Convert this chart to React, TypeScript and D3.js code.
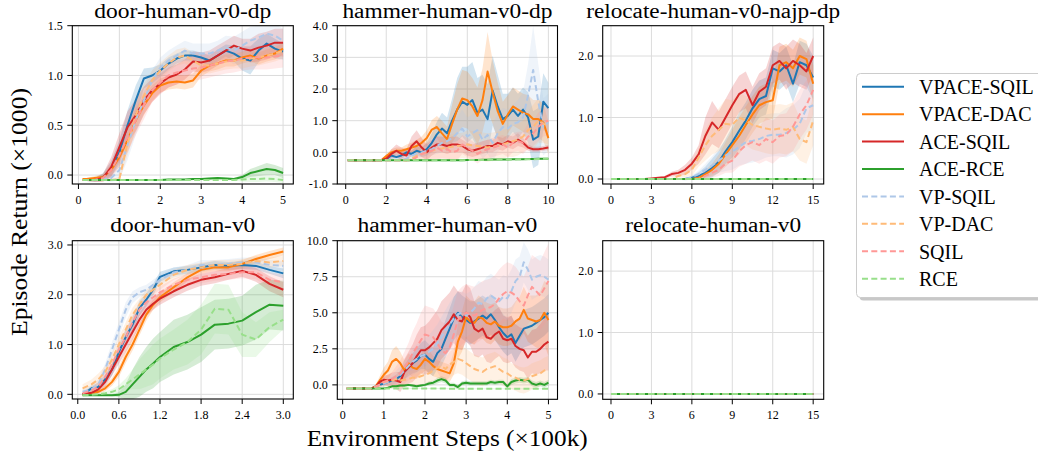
import React from 'react';
import * as d3 from 'd3';

// ---------- series meta ----------
const SERIES_NAMES = ['VPACE-SQIL', 'VPACE-DAC', 'ACE-SQIL', 'ACE-RCE', 'VP-SQIL', 'VP-DAC', 'SQIL', 'RCE'];
const SERIES_COLORS = ['#1f77b4', '#ff7f0e', '#d62728', '#2ca02c', '#aec7e8', '#ffbb78', '#ff9896', '#98df8a'];
const SERIES_DASHED = [false, false, false, false, true, true, true, true];

// ---------- door-human-v0-dp ----------
const doorDpX = [0.1, 0.2, 0.4, 0.6, 0.8, 1.0, 1.2, 1.4, 1.6, 1.8, 2.0, 2.2, 2.4, 2.6, 2.8, 3.0, 3.2, 3.4, 3.6, 3.8, 4.0, 4.2, 4.4, 4.6, 4.8, 5.0];
const doorDpVpaceSqil = [-0.05, -0.05, -0.05, -0.02, 0.06, 0.23, 0.5, 0.75, 0.97, 1.0, 1.05, 1.12, 1.17, 1.2, 1.2, 1.18, 1.15, 1.2, 1.25, 1.22, 1.17, 1.15, 1.25, 1.32, 1.27, 1.24];
const doorDpVpaceSqilSd = [0.01, 0.01, 0.02, 0.04, 0.08, 0.12, 0.15, 0.15, 0.1, 0.08, 0.06, 0.06, 0.05, 0.05, 0.05, 0.05, 0.05, 0.06, 0.06, 0.08, 0.12, 0.14, 0.12, 0.1, 0.1, 0.08];
const doorDpVpaceDac = [-0.04, -0.04, -0.03, -0.02, 0.05, 0.18, 0.35, 0.55, 0.7, 0.82, 0.9, 0.93, 0.94, 0.93, 0.95, 1.05, 1.1, 1.12, 1.15, 1.15, 1.18, 1.2, 1.17, 1.2, 1.22, 1.27];
const doorDpVpaceDacSd = [0.01, 0.01, 0.02, 0.03, 0.06, 0.1, 0.12, 0.12, 0.1, 0.08, 0.07, 0.07, 0.07, 0.07, 0.07, 0.06, 0.06, 0.06, 0.06, 0.06, 0.06, 0.06, 0.06, 0.06, 0.06, 0.06];
const doorDpAceSqil = [-0.05, -0.05, -0.05, -0.03, 0.08, 0.28, 0.48, 0.6, 0.75, 0.85, 0.92, 0.98, 1.01, 1.06, 1.14, 1.13, 1.15, 1.2, 1.25, 1.3, 1.27, 1.25, 1.28, 1.3, 1.33, 1.33];
const doorDpAceSqilSd = [0.01, 0.01, 0.02, 0.04, 0.1, 0.14, 0.16, 0.16, 0.14, 0.12, 0.1, 0.1, 0.1, 0.1, 0.1, 0.1, 0.1, 0.1, 0.1, 0.1, 0.1, 0.12, 0.14, 0.14, 0.14, 0.14];
const doorDpAceRce = [-0.05, -0.05, -0.05, -0.05, -0.05, -0.05, -0.05, -0.05, -0.05, -0.05, -0.05, -0.045, -0.045, -0.045, -0.04, -0.04, -0.035, -0.03, -0.035, -0.04, -0.02, 0.02, 0.04, 0.06, 0.05, 0.02];
const doorDpAceRceSd = [0.005, 0.005, 0.005, 0.005, 0.005, 0.005, 0.005, 0.005, 0.005, 0.005, 0.005, 0.005, 0.005, 0.005, 0.008, 0.008, 0.01, 0.01, 0.01, 0.01, 0.02, 0.04, 0.05, 0.06, 0.05, 0.05];
const doorDpVpSqil = [-0.05, -0.05, -0.05, -0.04, -0.03, 0.05, 0.3, 0.55, 0.75, 0.95, 1.08, 1.15, 1.2, 1.25, 1.22, 1.22, 1.22, 1.25, 1.28, 1.25, 1.3, 1.35, 1.38, 1.42, 1.4, 1.35];
const doorDpVpSqilSd = [0.01, 0.01, 0.01, 0.02, 0.04, 0.1, 0.15, 0.15, 0.12, 0.1, 0.1, 0.1, 0.1, 0.1, 0.1, 0.1, 0.1, 0.1, 0.12, 0.14, 0.14, 0.14, 0.12, 0.12, 0.12, 0.12];
const doorDpVpDac = [-0.05, -0.05, -0.05, -0.05, -0.05, -0.04, 0.32, 0.6, 0.8, 0.95, 1.05, 1.12, 1.18, 1.2, 1.15, 1.1, 1.1, 1.12, 1.14, 1.15, 1.15, 1.17, 1.18, 1.2, 1.22, 1.25];
const doorDpVpDacSd = [0.01, 0.01, 0.01, 0.01, 0.01, 0.02, 0.12, 0.14, 0.12, 0.1, 0.08, 0.08, 0.08, 0.08, 0.08, 0.08, 0.08, 0.08, 0.08, 0.08, 0.08, 0.08, 0.08, 0.08, 0.08, 0.08];
const doorDpSqil = [-0.05, -0.05, -0.05, -0.03, 0.05, 0.2, 0.38, 0.55, 0.7, 0.85, 0.93, 1.0, 1.03, 1.05, 1.07, 1.08, 1.1, 1.12, 1.14, 1.15, 1.17, 1.18, 1.18, 1.18, 1.19, 1.2];
const doorDpSqilSd = [0.01, 0.01, 0.02, 0.03, 0.08, 0.12, 0.15, 0.15, 0.14, 0.12, 0.12, 0.12, 0.12, 0.12, 0.12, 0.12, 0.12, 0.12, 0.12, 0.12, 0.12, 0.12, 0.12, 0.12, 0.12, 0.12];
const doorDpRce = [-0.05, -0.05, -0.05, -0.05, -0.05, -0.05, -0.05, -0.05, -0.05, -0.05, -0.05, -0.05, -0.05, -0.05, -0.05, -0.05, -0.05, -0.05, -0.05, -0.05, -0.045, -0.04, -0.04, -0.035, -0.04, -0.05];
const doorDpRceSd = [0.005, 0.005, 0.005, 0.005, 0.005, 0.005, 0.005, 0.005, 0.005, 0.005, 0.005, 0.005, 0.005, 0.005, 0.005, 0.005, 0.005, 0.005, 0.005, 0.005, 0.02, 0.03, 0.03, 0.03, 0.03, 0.03];
const doorDpXTicks = [0, 1, 2, 3, 4, 5];
const doorDpYTicks = [0, 0.5, 1.0, 1.5];

// ---------- hammer-human-v0-dp ----------
const hammerDpX = [0.1, 0.25, 0.5, 0.75, 1, 1.25, 1.5, 1.75, 2, 2.25, 2.5, 2.75, 3, 3.25, 3.5, 3.75, 4, 4.25, 4.5, 4.75, 5, 5.25, 5.5, 5.75, 6, 6.25, 6.5, 6.75, 7, 7.25, 7.5, 7.75, 8, 8.25, 8.5, 8.75, 9, 9.25, 9.5, 9.75, 10];
const hammerDpVpaceSqil = [-0.25, -0.25, -0.25, -0.25, -0.25, -0.25, -0.25, -0.25, -0.22, -0.1, -0.15, -0.1, 0.0, -0.05, 0.05, 0.0, 0.1, 0.3, 0.57, 0.75, 0.6, 1.0, 1.35, 1.6, 1.5, 1.65, 1.25, 1.35, 1.05, 1.95, 1.45, 1.05, 1.15, 1.35, 1.15, 1.35, 1.1, 0.4, 0.5, 1.6, 1.4];
const hammerDpVpaceSqilSd = [0.01, 0.01, 0.01, 0.01, 0.01, 0.01, 0.01, 0.01, 0.05, 0.1, 0.1, 0.1, 0.1, 0.1, 0.15, 0.15, 0.2, 0.3, 0.4, 0.5, 0.5, 0.7, 1.0, 1.1, 1.2, 1.2, 1.1, 1.1, 1.1, 1.1, 1.0, 0.8, 0.7, 0.7, 0.7, 0.7, 0.8, 0.9, 0.9, 0.9, 0.8];
const hammerDpVpaceDac = [-0.25, -0.25, -0.25, -0.25, -0.25, -0.25, -0.25, -0.25, -0.12, 0.0, 0.05, 0.05, 0.1, 0.15, 0.2, 0.3, 0.45, 0.72, 0.8, 0.6, 0.42, 0.9, 1.35, 1.7, 1.65, 1.45, 1.15, 1.65, 2.55, 1.9, 1.3, 0.9, 1.2, 1.45, 1.35, 1.25, 1.2, 1.05, 1.05, 0.95, 0.45];
const hammerDpVpaceDacSd = [0.01, 0.01, 0.01, 0.01, 0.01, 0.01, 0.01, 0.01, 0.05, 0.1, 0.1, 0.1, 0.15, 0.15, 0.2, 0.2, 0.25, 0.3, 0.35, 0.4, 0.4, 0.6, 0.8, 0.9, 0.9, 0.9, 0.9, 1.0, 1.25, 1.0, 0.9, 0.7, 0.6, 0.6, 0.6, 0.6, 0.6, 0.6, 0.6, 0.6, 0.5];
const hammerDpAceSqil = [-0.25, -0.25, -0.25, -0.25, -0.25, -0.25, -0.25, -0.25, -0.2, -0.05, 0.05, -0.05, -0.1, 0.2, 0.35, 0.15, 0.0, 0.15, 0.25, 0.25, 0.2, 0.25, 0.25, 0.2, 0.1, 0.05, 0.1, 0.15, 0.2, 0.2, 0.3, 0.25, 0.35, 0.3, 0.4, 0.3, 0.15, 0.1, 0.1, 0.12, 0.15];
const hammerDpAceSqilSd = [0.01, 0.01, 0.01, 0.01, 0.01, 0.01, 0.01, 0.01, 0.05, 0.15, 0.2, 0.2, 0.2, 0.3, 0.35, 0.3, 0.25, 0.25, 0.25, 0.25, 0.25, 0.25, 0.25, 0.2, 0.2, 0.2, 0.2, 0.2, 0.2, 0.2, 0.2, 0.2, 0.2, 0.2, 0.2, 0.15, 0.1, 0.08, 0.08, 0.08, 0.08];
const hammerDpAceRce = [-0.25, -0.25, -0.25, -0.25, -0.25, -0.25, -0.25, -0.25, -0.25, -0.25, -0.25, -0.25, -0.25, -0.25, -0.25, -0.25, -0.25, -0.25, -0.25, -0.25, -0.25, -0.25, -0.25, -0.25, -0.245, -0.24, -0.24, -0.235, -0.235, -0.23, -0.23, -0.225, -0.225, -0.22, -0.22, -0.215, -0.21, -0.21, -0.205, -0.2, -0.2];
const hammerDpAceRceSd = [0.02, 0.02, 0.02, 0.02, 0.02, 0.02, 0.02, 0.02, 0.02, 0.02, 0.02, 0.02, 0.02, 0.02, 0.02, 0.02, 0.02, 0.02, 0.02, 0.02, 0.02, 0.02, 0.02, 0.02, 0.02, 0.02, 0.02, 0.02, 0.02, 0.02, 0.02, 0.02, 0.02, 0.02, 0.02, 0.02, 0.02, 0.02, 0.02, 0.02, 0.02];
const hammerDpVpSqil = [-0.25, -0.25, -0.25, -0.25, -0.25, -0.25, -0.25, -0.25, -0.25, -0.25, -0.25, -0.25, -0.2, -0.1, -0.05, 0.0, 0.05, 0.1, 0.2, 0.3, 0.35, 0.45, 0.6, 0.75, 0.5, 0.6, 0.7, 0.4, 0.55, 0.3, 0.6, 0.8, 0.75, 0.9, 0.95, 1.1, 1.8, 2.6, 1.6, 0.8, 0.95];
const hammerDpVpSqilSd = [0.01, 0.01, 0.01, 0.01, 0.01, 0.01, 0.01, 0.01, 0.01, 0.01, 0.01, 0.01, 0.05, 0.1, 0.1, 0.15, 0.2, 0.2, 0.25, 0.3, 0.35, 0.4, 0.5, 0.6, 0.6, 0.6, 0.6, 0.6, 0.6, 0.6, 0.6, 0.6, 0.6, 0.6, 0.7, 0.8, 1.0, 1.4, 1.2, 0.9, 0.9];
const hammerDpVpDac = [-0.25, -0.25, -0.25, -0.25, -0.25, -0.25, -0.25, -0.25, -0.25, -0.25, -0.25, -0.25, -0.25, -0.2, -0.1, -0.05, 0.0, 0.05, 0.1, 0.12, 0.15, 0.18, 0.2, 0.22, 0.25, 0.22, 0.2, 0.18, 0.15, 0.18, 0.2, 0.25, 0.3, 0.35, 0.4, 0.5, 0.7, 0.8, 1.0, 0.9, 0.85];
const hammerDpVpDacSd = [0.01, 0.01, 0.01, 0.01, 0.01, 0.01, 0.01, 0.01, 0.01, 0.01, 0.01, 0.01, 0.01, 0.05, 0.1, 0.15, 0.2, 0.25, 0.3, 0.3, 0.35, 0.4, 0.4, 0.4, 0.45, 0.45, 0.45, 0.45, 0.45, 0.45, 0.45, 0.45, 0.45, 0.5, 0.5, 0.5, 0.6, 0.7, 0.7, 0.6, 0.6];
const hammerDpSqil = [-0.25, -0.25, -0.25, -0.25, -0.25, -0.25, -0.25, -0.25, -0.25, -0.25, -0.25, -0.25, -0.25, -0.25, -0.15, -0.05, 0.0, 0.05, 0.15, 0.05, 0.1, 0.0, 0.05, 0.25, 0.15, 0.05, -0.05, 0.05, 0.1, 0.15, 0.2, 0.25, 0.15, 0.3, 0.35, 0.3, 0.5, 0.6, 0.8, 0.95, 1.0];
const hammerDpSqilSd = [0.01, 0.01, 0.01, 0.01, 0.01, 0.01, 0.01, 0.01, 0.01, 0.01, 0.01, 0.01, 0.01, 0.01, 0.1, 0.2, 0.3, 0.35, 0.35, 0.3, 0.3, 0.3, 0.3, 0.3, 0.3, 0.3, 0.3, 0.3, 0.3, 0.3, 0.3, 0.3, 0.3, 0.3, 0.3, 0.35, 0.4, 0.4, 0.45, 0.45, 0.45];
const hammerDpRce = [-0.25, -0.25, -0.25, -0.25, -0.25, -0.25, -0.25, -0.25, -0.25, -0.25, -0.25, -0.25, -0.25, -0.25, -0.25, -0.25, -0.25, -0.25, -0.25, -0.25, -0.25, -0.25, -0.25, -0.25, -0.245, -0.245, -0.24, -0.24, -0.235, -0.235, -0.23, -0.23, -0.225, -0.225, -0.22, -0.22, -0.215, -0.215, -0.21, -0.205, -0.2];
const hammerDpRceSd = [0.015, 0.015, 0.015, 0.015, 0.015, 0.015, 0.015, 0.015, 0.015, 0.015, 0.015, 0.015, 0.015, 0.015, 0.015, 0.015, 0.015, 0.015, 0.015, 0.015, 0.015, 0.015, 0.015, 0.015, 0.015, 0.015, 0.015, 0.015, 0.015, 0.015, 0.015, 0.015, 0.015, 0.015, 0.015, 0.015, 0.015, 0.015, 0.015, 0.015, 0.015];
const hammerDpXTicks = [0, 2, 4, 6, 8, 10];
const hammerDpYTicks = [-1, 0, 1, 2, 3, 4];

// ---------- relocate-human-v0-najp-dp ----------
const relocDpX = [0, 0.5, 1, 1.5, 2, 2.5, 3, 3.5, 4, 4.5, 5, 5.5, 6, 6.5, 7, 7.5, 8, 8.5, 9, 9.5, 10, 10.5, 11, 11.5, 12, 12.5, 13, 13.5, 14, 14.5, 15];
const relocDpVpaceSqil = [0, 0, 0, 0, 0, 0, 0, 0, 0, 0, 0, 0, 0.02, 0.05, 0.1, 0.18, 0.28, 0.45, 0.6, 0.78, 0.95, 1.15, 1.3, 1.35, 1.8, 1.75, 1.85, 1.55, 1.9, 1.85, 1.65];
const relocDpVpaceSqilSd = [0.005, 0.005, 0.005, 0.005, 0.005, 0.005, 0.005, 0.005, 0.005, 0.005, 0.01, 0.02, 0.03, 0.06, 0.1, 0.15, 0.18, 0.2, 0.25, 0.3, 0.3, 0.3, 0.3, 0.3, 0.3, 0.3, 0.3, 0.3, 0.35, 0.35, 0.35];
const relocDpVpaceDac = [0, 0, 0, 0, 0, 0, 0, 0, 0, 0, 0, 0, 0, 0.02, 0.08, 0.15, 0.25, 0.4, 0.55, 0.7, 0.88, 1.05, 1.2, 1.25, 1.28, 1.85, 1.9, 1.8, 2.0, 1.95, 1.55];
const relocDpVpaceDacSd = [0.005, 0.005, 0.005, 0.005, 0.005, 0.005, 0.005, 0.005, 0.005, 0.005, 0.005, 0.005, 0.01, 0.03, 0.06, 0.1, 0.15, 0.2, 0.25, 0.3, 0.3, 0.3, 0.3, 0.3, 0.3, 0.3, 0.3, 0.3, 0.3, 0.3, 0.3];
const relocDpAceSqil = [0, 0, 0, 0, 0, 0, 0.01, 0.02, 0.03, 0.08, 0.1, 0.15, 0.25, 0.4, 0.7, 0.92, 0.8, 1.0, 1.2, 1.38, 1.45, 1.2, 1.42, 1.5, 1.85, 1.92, 1.8, 1.92, 1.85, 1.75, 2.0];
const relocDpAceSqilSd = [0.005, 0.005, 0.005, 0.005, 0.005, 0.005, 0.005, 0.01, 0.02, 0.04, 0.05, 0.08, 0.1, 0.15, 0.3, 0.35, 0.3, 0.3, 0.3, 0.3, 0.3, 0.3, 0.3, 0.3, 0.3, 0.3, 0.35, 0.35, 0.35, 0.3, 0.3];
const relocDpAceRce = [0, 0, 0, 0, 0, 0, 0, 0, 0, 0, 0, 0, 0, 0, 0, 0, 0, 0, 0, 0, 0, 0, 0, 0, 0, 0, 0, 0, 0, 0, 0];
const relocDpAceRceSd = [0.015, 0.015, 0.015, 0.015, 0.015, 0.015, 0.015, 0.015, 0.015, 0.015, 0.015, 0.015, 0.015, 0.015, 0.015, 0.015, 0.015, 0.015, 0.015, 0.015, 0.015, 0.015, 0.015, 0.015, 0.015, 0.015, 0.015, 0.015, 0.015, 0.015, 0.015];
const relocDpVpSqil = [0, 0, 0, 0, 0, 0, 0, 0, 0, 0, 0, 0, 0.03, 0.08, 0.15, 0.22, 0.3, 0.38, 0.45, 0.52, 0.6, 0.62, 0.65, 0.7, 0.72, 0.72, 0.75, 0.8, 0.9, 1.15, 1.2];
const relocDpVpSqilSd = [0.005, 0.005, 0.005, 0.005, 0.005, 0.005, 0.005, 0.005, 0.005, 0.005, 0.005, 0.005, 0.03, 0.06, 0.1, 0.15, 0.2, 0.25, 0.3, 0.3, 0.35, 0.35, 0.35, 0.35, 0.35, 0.35, 0.4, 0.4, 0.4, 0.4, 0.4];
const relocDpVpDac = [0, 0, 0, 0, 0, 0, 0, 0, 0, 0, 0.05, 0.08, 0.15, 0.35, 0.55, 0.7, 0.8, 0.9, 0.88, 1.0, 0.95, 0.88, 0.85, 0.82, 0.8, 0.82, 0.8, 0.85, 0.65, 0.6, 0.95];
const relocDpVpDacSd = [0.005, 0.005, 0.005, 0.005, 0.005, 0.005, 0.005, 0.005, 0.005, 0.005, 0.03, 0.05, 0.1, 0.15, 0.25, 0.3, 0.35, 0.4, 0.4, 0.4, 0.4, 0.4, 0.4, 0.4, 0.4, 0.4, 0.4, 0.4, 0.35, 0.35, 0.4];
const relocDpSqil = [0, 0, 0, 0, 0, 0, 0, 0, 0, 0, 0, 0, 0, 0, 0.05, 0.1, 0.15, 0.25, 0.3, 0.45, 0.55, 0.6, 0.55, 0.65, 0.6, 0.7, 0.72, 0.85, 1.05, 1.2, 1.45];
const relocDpSqilSd = [0.005, 0.005, 0.005, 0.005, 0.005, 0.005, 0.005, 0.005, 0.005, 0.005, 0.005, 0.005, 0.005, 0.005, 0.05, 0.08, 0.1, 0.15, 0.2, 0.25, 0.3, 0.3, 0.3, 0.35, 0.35, 0.35, 0.35, 0.4, 0.4, 0.4, 0.4];
const relocDpRce = [0, 0, 0, 0, 0, 0, 0, 0, 0, 0, 0, 0, 0, 0, 0, 0, 0, 0, 0, 0, 0, 0, 0, 0, 0, 0, 0, 0, 0, 0, 0];
const relocDpRceSd = [0.01, 0.01, 0.01, 0.01, 0.01, 0.01, 0.01, 0.01, 0.01, 0.01, 0.01, 0.01, 0.01, 0.01, 0.01, 0.01, 0.01, 0.01, 0.01, 0.01, 0.01, 0.01, 0.01, 0.01, 0.01, 0.01, 0.01, 0.01, 0.01, 0.01, 0.01];
const relocDpXTicks = [0, 3, 6, 9, 12, 15];
const relocDpYTicks = [0, 1, 2];

// ---------- door-human-v0 ----------
const doorX = [0.07, 0.2, 0.3, 0.4, 0.5, 0.6, 0.7, 0.8, 0.9, 1.0, 1.1, 1.2, 1.4, 1.6, 1.8, 2.0, 2.2, 2.4, 2.6, 2.8, 3.0];
const doorVpaceSqil = [0.0, 0.12, 0.15, 0.3, 0.5, 0.85, 1.15, 1.4, 1.73, 1.9, 2.1, 2.36, 2.47, 2.5, 2.55, 2.6, 2.58, 2.6, 2.58, 2.5, 2.43];
const doorVpaceSqilSd = [0.02, 0.05, 0.08, 0.1, 0.12, 0.15, 0.15, 0.15, 0.15, 0.13, 0.12, 0.1, 0.08, 0.08, 0.08, 0.08, 0.08, 0.08, 0.08, 0.08, 0.1];
const doorVpaceDac = [0.0, 0.02, 0.05, 0.12, 0.25, 0.45, 0.75, 1.0, 1.3, 1.6, 1.8, 1.95, 2.15, 2.35, 2.5, 2.55, 2.55, 2.62, 2.72, 2.8, 2.87];
const doorVpaceDacSd = [0.02, 0.03, 0.05, 0.06, 0.08, 0.1, 0.12, 0.12, 0.12, 0.12, 0.1, 0.1, 0.1, 0.08, 0.08, 0.08, 0.08, 0.08, 0.08, 0.08, 0.08];
const doorAceSqil = [0.0, 0.03, 0.1, 0.25, 0.5, 0.75, 1.0, 1.25, 1.5, 1.7, 1.82, 1.92, 2.07, 2.2, 2.3, 2.35, 2.42, 2.48, 2.4, 2.22, 2.1];
const doorAceSqilSd = [0.02, 0.05, 0.08, 0.1, 0.12, 0.14, 0.15, 0.15, 0.14, 0.13, 0.12, 0.12, 0.12, 0.12, 0.12, 0.12, 0.12, 0.12, 0.14, 0.15, 0.15];
const doorAceRce = [-0.02, -0.02, -0.02, -0.02, -0.02, -0.01, 0.05, 0.2, 0.35, 0.5, 0.62, 0.75, 0.95, 1.05, 1.2, 1.4, 1.42, 1.48, 1.65, 1.8, 1.78];
const doorAceRceSd = [0.01, 0.01, 0.01, 0.01, 0.02, 0.05, 0.15, 0.3, 0.4, 0.45, 0.5, 0.5, 0.55, 0.55, 0.55, 0.5, 0.5, 0.5, 0.55, 0.5, 0.5];
const doorVpSqil = [0.05, 0.1, 0.2, 0.5, 0.9, 1.3, 1.7, 1.95, 2.05, 2.1, 2.2, 2.3, 2.45, 2.5, 2.6, 2.6, 2.62, 2.65, 2.65, 2.6, 2.58];
const doorVpSqilSd = [0.05, 0.08, 0.1, 0.12, 0.15, 0.15, 0.15, 0.12, 0.1, 0.1, 0.1, 0.1, 0.1, 0.1, 0.1, 0.1, 0.1, 0.1, 0.1, 0.1, 0.1];
const doorVpDac = [0.12, 0.2, 0.3, 0.45, 0.7, 1.0, 1.3, 1.6, 1.8, 2.0, 2.1, 2.2, 2.4, 2.5, 2.55, 2.6, 2.6, 2.62, 2.68, 2.65, 2.68];
const doorVpDacSd = [0.08, 0.1, 0.12, 0.12, 0.14, 0.15, 0.15, 0.14, 0.12, 0.1, 0.1, 0.1, 0.1, 0.1, 0.1, 0.1, 0.1, 0.1, 0.1, 0.1, 0.1];
const doorSqil = [0.02, 0.08, 0.15, 0.35, 0.6, 0.9, 1.15, 1.45, 1.7, 1.85, 1.95, 2.05, 2.2, 2.3, 2.35, 2.4, 2.42, 2.45, 2.45, 2.3, 2.25];
const doorSqilSd = [0.03, 0.06, 0.1, 0.12, 0.14, 0.15, 0.15, 0.14, 0.12, 0.12, 0.12, 0.12, 0.12, 0.12, 0.12, 0.12, 0.12, 0.12, 0.14, 0.15, 0.15];
const doorRce = [-0.02, -0.01, 0.0, 0.02, 0.05, 0.1, 0.2, 0.3, 0.4, 0.5, 0.6, 0.72, 0.9, 1.05, 1.3, 1.72, 1.7, 1.2, 1.1, 1.35, 1.5];
const doorRceSd = [0.01, 0.02, 0.03, 0.04, 0.05, 0.08, 0.12, 0.2, 0.3, 0.35, 0.4, 0.4, 0.4, 0.45, 0.5, 0.5, 0.5, 0.45, 0.35, 0.3, 0.2];
const doorXTicks = [0, 0.6, 1.2, 1.8, 2.4, 3.0];
const doorYTicks = [0, 1, 2, 3];

// ---------- hammer-human-v0 ----------
const hammerX = [0.1, 0.2, 0.3, 0.4, 0.5, 0.6, 0.7, 0.8, 0.9, 1.0, 1.1, 1.2, 1.3, 1.4, 1.5, 1.6, 1.7, 1.8, 1.9, 2.0, 2.1, 2.2, 2.3, 2.4, 2.5, 2.6, 2.7, 2.8, 2.9, 3.0, 3.1, 3.2, 3.3, 3.4, 3.5, 3.6, 3.7, 3.8, 3.9, 4.0, 4.1, 4.2, 4.3, 4.4, 4.5, 4.6, 4.7, 4.8, 4.9, 5.0];
const hammerVpaceSqil = [-0.25, -0.25, -0.25, -0.25, -0.25, -0.25, -0.25, -0.1, 0.0, 0.1, 0.2, 0.3, 0.4, 0.6, 0.9, 1.2, 1.5, 1.7, 2.0, 2.1, 1.8, 1.6, 2.2, 2.5, 3.2, 3.9, 4.6, 5.0, 4.7, 4.5, 4.3, 4.4, 4.6, 4.8, 4.6, 4.9, 4.5, 4.0, 3.6, 3.3, 3.5, 2.9, 3.4, 3.9, 4.0, 4.1, 4.3, 4.5, 4.7, 5.0];
const hammerVpaceSqilSd = [0.02, 0.02, 0.02, 0.02, 0.02, 0.02, 0.02, 0.05, 0.1, 0.15, 0.2, 0.25, 0.3, 0.4, 0.5, 0.6, 0.7, 0.8, 0.9, 1.0, 1.0, 1.0, 1.1, 1.2, 1.3, 1.4, 1.5, 1.5, 1.5, 1.5, 1.5, 1.4, 1.4, 1.4, 1.4, 1.4, 1.4, 1.3, 1.3, 1.3, 1.3, 1.3, 1.3, 1.3, 1.3, 1.3, 1.3, 1.3, 1.3, 1.3];
const hammerVpaceDac = [-0.25, -0.25, -0.25, -0.25, -0.25, -0.25, -0.25, -0.1, 0.3, 0.7, 1.0, 1.6, 1.8, 1.5, 1.0, 1.5, 1.2, 1.1, 1.4, 1.8, 1.6, 1.3, 1.1, 1.0, 0.9, 0.8, 1.5, 3.0, 3.7, 4.7, 4.4, 4.3, 4.7, 4.6, 4.3, 4.2, 4.4, 4.1, 4.0, 4.0, 4.1, 4.4, 4.6, 5.2, 4.6, 4.5, 4.4, 4.5, 5.0, 4.5];
const hammerVpaceDacSd = [0.02, 0.02, 0.02, 0.02, 0.02, 0.02, 0.02, 0.1, 0.3, 0.5, 0.6, 0.8, 0.9, 0.8, 0.7, 0.7, 0.7, 0.7, 0.7, 0.8, 0.8, 0.7, 0.6, 0.6, 0.6, 0.6, 0.8, 1.2, 1.4, 1.5, 1.5, 1.5, 1.5, 1.4, 1.4, 1.4, 1.3, 1.3, 1.3, 1.3, 1.3, 1.4, 1.5, 1.6, 1.6, 1.7, 1.8, 2.0, 2.2, 2.5];
const hammerAceSqil = [-0.25, -0.25, -0.25, -0.25, -0.25, -0.25, -0.25, -0.15, 0.2, 0.35, 0.3, 0.35, 0.3, 0.2, 0.9, 1.2, 1.5, 2.0, 2.4, 2.4, 2.6, 2.9, 3.2, 3.8, 4.1, 4.4, 4.9, 4.5, 4.4, 5.0, 4.7, 3.9, 3.7, 3.9, 3.3, 3.2, 3.5, 3.7, 3.2, 3.1, 3.2, 2.7, 2.5, 2.4, 1.9, 2.3, 2.3, 2.5, 2.8, 3.0];
const hammerAceSqilSd = [0.02, 0.02, 0.02, 0.02, 0.02, 0.02, 0.02, 0.1, 0.2, 0.3, 0.4, 0.5, 0.6, 0.7, 0.9, 1.1, 1.3, 1.5, 1.6, 1.7, 1.8, 1.9, 2.0, 2.0, 2.0, 2.0, 2.0, 2.0, 2.0, 2.0, 2.0, 1.9, 1.8, 1.8, 1.7, 1.7, 1.7, 1.7, 1.6, 1.6, 1.6, 1.5, 1.5, 1.5, 1.5, 1.5, 1.6, 1.7, 1.8, 2.0];
const hammerAceRce = [-0.25, -0.25, -0.25, -0.25, -0.25, -0.25, -0.25, -0.25, -0.25, -0.25, -0.2, -0.1, -0.1, -0.05, -0.05, 0.0, -0.05, -0.1, -0.05, 0.0, 0.1, 0.15, 0.3, 0.4, 0.3, 0.0, 0.0, -0.15, 0.1, 0.15, 0.1, 0.1, 0.1, 0.1, 0.1, 0.2, 0.15, 0.2, 0.2, -0.1, 0.2, 0.3, 0.35, 0.3, 0.35, 0.1, 0.0, 0.1, 0.0, 0.15];
const hammerAceRceSd = [0.02, 0.02, 0.02, 0.02, 0.02, 0.02, 0.02, 0.02, 0.02, 0.02, 0.05, 0.08, 0.1, 0.1, 0.1, 0.1, 0.1, 0.1, 0.1, 0.1, 0.15, 0.15, 0.2, 0.2, 0.2, 0.15, 0.15, 0.15, 0.15, 0.15, 0.15, 0.15, 0.15, 0.15, 0.15, 0.15, 0.15, 0.15, 0.15, 0.15, 0.2, 0.2, 0.2, 0.2, 0.2, 0.2, 0.2, 0.2, 0.2, 0.2];
const hammerVpSqil = [-0.25, -0.25, -0.25, -0.25, -0.25, -0.25, -0.25, -0.1, 0.0, 0.1, 0.2, 0.3, 0.5, 0.7, 1.0, 1.3, 1.6, 1.8, 2.0, 2.1, 2.3, 2.5, 2.9, 3.3, 3.8, 4.2, 4.6, 4.9, 5.0, 4.8, 5.0, 5.3, 5.7, 5.6, 6.0, 6.2, 6.0, 5.8, 6.1, 6.0, 6.5, 7.2, 7.5, 8.5, 8.0, 7.3, 7.5, 7.6, 7.5, 7.3];
const hammerVpSqilSd = [0.02, 0.02, 0.02, 0.02, 0.02, 0.02, 0.02, 0.1, 0.15, 0.2, 0.3, 0.4, 0.5, 0.6, 0.7, 0.8, 0.9, 1.0, 1.0, 1.1, 1.2, 1.3, 1.3, 1.4, 1.4, 1.5, 1.5, 1.5, 1.5, 1.5, 1.5, 1.5, 1.5, 1.5, 1.5, 1.5, 1.5, 1.5, 1.5, 1.5, 1.5, 1.5, 1.4, 1.4, 1.4, 1.4, 1.4, 1.4, 1.4, 1.4];
const hammerVpDac = [-0.25, -0.25, -0.25, -0.25, -0.25, -0.25, -0.25, -0.15, 0.0, 0.2, 0.25, 0.3, 0.4, 0.3, 0.35, 0.4, 0.5, 0.5, 0.6, 0.7, 0.8, 1.0, 1.2, 1.3, 1.1, 1.4, 1.6, 1.8, 1.7, 1.5, 1.3, 1.1, 1.0, 0.9, 1.1, 1.2, 1.3, 1.1, 0.9, 0.8, 0.6, 0.5, 0.35, 0.3, 0.4, 0.6, 0.7, 0.8, 1.0, 1.1];
const hammerVpDacSd = [0.02, 0.02, 0.02, 0.02, 0.02, 0.02, 0.02, 0.1, 0.2, 0.3, 0.4, 0.5, 0.5, 0.5, 0.5, 0.5, 0.5, 0.6, 0.6, 0.6, 0.7, 0.7, 0.8, 0.8, 0.8, 0.9, 0.9, 1.0, 1.0, 1.0, 1.0, 1.0, 1.0, 1.0, 1.0, 1.0, 1.0, 1.0, 1.0, 1.0, 0.9, 0.9, 0.9, 0.9, 0.9, 0.9, 0.9, 0.9, 0.9, 0.9];
const hammerSqil = [-0.25, -0.25, -0.25, -0.25, -0.25, -0.25, -0.25, -0.15, 0.0, 0.2, 0.3, 0.4, 0.6, 0.8, 1.2, 1.6, 2.2, 2.6, 3.1, 3.5, 3.4, 3.3, 2.9, 2.4, 2.2, 2.6, 3.5, 4.5, 4.8, 5.0, 4.9, 4.8, 5.0, 5.2, 5.3, 5.4, 5.6, 6.0, 6.3, 6.5, 6.4, 6.2, 5.8, 5.5, 6.2, 6.8, 6.5, 6.2, 6.7, 7.2];
const hammerSqilSd = [0.02, 0.02, 0.02, 0.02, 0.02, 0.02, 0.02, 0.1, 0.2, 0.3, 0.4, 0.5, 0.7, 0.9, 1.1, 1.3, 1.5, 1.7, 1.9, 2.0, 2.0, 2.0, 2.0, 2.0, 2.0, 2.0, 2.0, 2.0, 2.0, 2.0, 2.0, 2.0, 2.0, 2.0, 2.0, 2.0, 2.0, 2.0, 2.0, 2.0, 2.0, 2.0, 2.0, 2.0, 2.0, 2.2, 2.3, 2.4, 2.5, 2.6];
const hammerRce = [-0.25, -0.25, -0.25, -0.25, -0.25, -0.25, -0.25, -0.25, -0.25, -0.25, -0.25, -0.25, -0.25, -0.25, -0.25, -0.25, -0.25, -0.25, -0.25, -0.25, -0.25, -0.25, -0.25, -0.25, -0.25, -0.27, -0.27, -0.27, -0.27, -0.27, -0.27, -0.27, -0.27, -0.27, -0.27, -0.27, -0.27, -0.27, -0.27, -0.27, -0.27, -0.27, -0.27, -0.27, -0.27, -0.27, -0.27, -0.27, -0.27, -0.27];
const hammerRceSd = [0.03, 0.03, 0.03, 0.03, 0.03, 0.03, 0.03, 0.03, 0.03, 0.03, 0.03, 0.03, 0.03, 0.03, 0.03, 0.03, 0.03, 0.03, 0.03, 0.03, 0.03, 0.03, 0.03, 0.03, 0.03, 0.03, 0.03, 0.03, 0.03, 0.03, 0.03, 0.03, 0.03, 0.03, 0.03, 0.03, 0.03, 0.03, 0.03, 0.03, 0.03, 0.03, 0.03, 0.03, 0.03, 0.03, 0.03, 0.03, 0.03, 0.03];
const hammerXTicks = [0, 1, 2, 3, 4, 5];
const hammerYTicks = [0, 2.5, 5.0, 7.5, 10.0];

// ---------- relocate-human-v0 ----------
const relocX = [0, 1.5, 3, 4.5, 6, 7.5, 9, 10.5, 12, 13.5, 15];
const relocZero = [0, 0, 0, 0, 0, 0, 0, 0, 0, 0, 0];
const relocZeroSd = [0.005, 0.005, 0.005, 0.005, 0.005, 0.005, 0.005, 0.005, 0.005, 0.005, 0.005];
const relocXTicks = [0, 3, 6, 9, 12, 15];
const relocYTicks = [0, 1, 2];

// ---------- layout ----------
const FONT = "'Liberation Serif', 'Times New Roman', serif";
const W = 1038;
const H = 455;

type PanelDef = {
  title: string;
  titleW: number;
  titleY: number;
  x: number[];
  means: number[][];
  sds: number[][];
  box: { l: number; r: number; t: number; b: number };
  xDom: [number, number];
  yDom: [number, number];
  xTicks: number[];
  yTicks: number[];
  xFmt: string;
  yFmt: string;
};

const PANELS: PanelDef[] = [
  {
    title: 'door-human-v0-dp', titleW: 177, titleY: 18, x: doorDpX,
    means: [doorDpVpaceSqil, doorDpVpaceDac, doorDpAceSqil, doorDpAceRce, doorDpVpSqil, doorDpVpDac, doorDpSqil, doorDpRce],
    sds: [doorDpVpaceSqilSd, doorDpVpaceDacSd, doorDpAceSqilSd, doorDpAceRceSd, doorDpVpSqilSd, doorDpVpDacSd, doorDpSqilSd, doorDpRceSd],
    box: { l: 72.3, r: 293.3, t: 25.7, b: 184 }, xDom: [-0.15, 5.25], yDom: [-0.09, 1.5],
    xTicks: doorDpXTicks, yTicks: doorDpYTicks, xFmt: 'd', yFmt: '.1f',
  },
  {
    title: 'hammer-human-v0-dp', titleW: 210, titleY: 18, x: hammerDpX,
    means: [hammerDpVpaceSqil, hammerDpVpaceDac, hammerDpAceSqil, hammerDpAceRce, hammerDpVpSqil, hammerDpVpDac, hammerDpSqil, hammerDpRce],
    sds: [hammerDpVpaceSqilSd, hammerDpVpaceDacSd, hammerDpAceSqilSd, hammerDpAceRceSd, hammerDpVpSqilSd, hammerDpVpDacSd, hammerDpSqilSd, hammerDpRceSd],
    box: { l: 337.3, r: 557.5, t: 25.7, b: 184 }, xDom: [-0.415, 10.45], yDom: [-1, 4],
    xTicks: hammerDpXTicks, yTicks: hammerDpYTicks, xFmt: 'd', yFmt: '.1f',
  },
  {
    title: 'relocate-human-v0-najp-dp', titleW: 254, titleY: 18, x: relocDpX,
    means: [relocDpVpaceSqil, relocDpVpaceDac, relocDpAceSqil, relocDpAceRce, relocDpVpSqil, relocDpVpDac, relocDpSqil, relocDpRce],
    sds: [relocDpVpaceSqilSd, relocDpVpaceDacSd, relocDpAceSqilSd, relocDpAceRceSd, relocDpVpSqilSd, relocDpVpDacSd, relocDpSqilSd, relocDpRceSd],
    box: { l: 602.7, r: 823.7, t: 25.7, b: 184 }, xDom: [-0.615, 15.78], yDom: [-0.081, 2.493],
    xTicks: relocDpXTicks, yTicks: relocDpYTicks, xFmt: 'd', yFmt: '.1f',
  },
  {
    title: 'door-human-v0', titleW: 145, titleY: 232, x: doorX,
    means: [doorVpaceSqil, doorVpaceDac, doorAceSqil, doorAceRce, doorVpSqil, doorVpDac, doorSqil, doorRce],
    sds: [doorVpaceSqilSd, doorVpaceDacSd, doorAceSqilSd, doorAceRceSd, doorVpSqilSd, doorVpDacSd, doorSqilSd, doorRceSd],
    box: { l: 72.3, r: 293.3, t: 240.7, b: 399 }, xDom: [-0.08, 3.146], yDom: [-0.094, 3.086],
    xTicks: doorXTicks, yTicks: doorYTicks, xFmt: '.1f', yFmt: '.1f',
  },
  {
    title: 'hammer-human-v0', titleW: 180, titleY: 232, x: hammerX,
    means: [hammerVpaceSqil, hammerVpaceDac, hammerAceSqil, hammerAceRce, hammerVpSqil, hammerVpDac, hammerSqil, hammerRce],
    sds: [hammerVpaceSqilSd, hammerVpaceDacSd, hammerAceSqilSd, hammerAceRceSd, hammerVpSqilSd, hammerVpDacSd, hammerSqilSd, hammerRceSd],
    box: { l: 337.3, r: 557.5, t: 240.7, b: 399.3 }, xDom: [-0.13, 5.22], yDom: [-1.0, 10.0],
    xTicks: hammerXTicks, yTicks: hammerYTicks, xFmt: 'd', yFmt: '.1f',
  },
  {
    title: 'relocate-human-v0', titleW: 176, titleY: 232, x: relocX,
    means: [relocZero, relocZero, relocZero, relocZero, relocZero, relocZero, relocZero, relocZero],
    sds: [relocZeroSd, relocZeroSd, relocZeroSd, relocZeroSd, relocZeroSd, relocZeroSd, relocZeroSd, relocZeroSd],
    box: { l: 602.7, r: 823.7, t: 240.7, b: 399.3 }, xDom: [-0.615, 15.78], yDom: [-0.087, 2.495],
    xTicks: relocXTicks, yTicks: relocYTicks, xFmt: 'd', yFmt: '.1f',
  },
];

const fmt = (spec: string) => (v: number) => d3.format(spec)(v).replace('\u2212', '-');

function Panel({ p, id }: { p: PanelDef; id: number }) {
  const { l, r, t, b } = p.box;
  const xs = d3.scaleLinear().domain(p.xDom).range([l, r]);
  const ys = d3.scaleLinear().domain(p.yDom).range([b, t]);
  const fx = fmt(p.xFmt);
  const fy = fmt(p.yFmt);
  const clipId = `clip-${id}`;

  const lineGen = d3
    .line<number>()
    .defined((d, i) => d !== undefined && p.x[i] !== undefined)
    .x((_, i) => xs(p.x[i]))
    .y((d) => ys(d));

  return (
    <g>
      <defs>
        <clipPath id={clipId}>
          <rect x={l} y={t} width={r - l} height={b - t} />
        </clipPath>
      </defs>
      <g stroke="#dcdcdc" strokeWidth={1}>
        {p.xTicks.map((v) => (
          <line key={`gx${v}`} x1={xs(v)} x2={xs(v)} y1={t} y2={b} />
        ))}
        {p.yTicks.map((v) => (
          <line key={`gy${v}`} x1={l} x2={r} y1={ys(v)} y2={ys(v)} />
        ))}
      </g>
      <g clipPath={`url(#${clipId})`}>
        {p.means.map((m, k) => {
          const sd = p.sds[k];
          const areaGen = d3
            .area<number>()
            .x((_, i) => xs(p.x[i]))
            .y0((d, i) => ys(d - sd[i]))
            .y1((d, i) => ys(d + sd[i]));
          return (
            <path key={`a${k}`} d={areaGen(m) || ''} fill={SERIES_COLORS[k]} fillOpacity={0.2} stroke="none" />
          );
        })}
        {p.means.map((m, k) => (
          <path
            key={`l${k}`}
            d={lineGen(m) || ''}
            fill="none"
            stroke={SERIES_COLORS[k]}
            strokeWidth={2}
            strokeDasharray={SERIES_DASHED[k] ? '6,3.3' : undefined}
            strokeLinejoin="round"
          />
        ))}
      </g>
      <rect x={l} y={t} width={r - l} height={b - t} fill="none" stroke="#000" strokeWidth={1.1} />
      <g stroke="#000" strokeWidth={1}>
        {p.xTicks.map((v) => (
          <line key={`tx${v}`} x1={xs(v)} x2={xs(v)} y1={b} y2={b + 5} />
        ))}
        {p.yTicks.map((v) => (
          <line key={`ty${v}`} x1={l - 5} x2={l} y1={ys(v)} y2={ys(v)} />
        ))}
      </g>
      <g fontSize={12} fill="#000">
        {p.xTicks.map((v) => (
          <text key={`lx${v}`} x={xs(v)} y={b + 19.5} textAnchor="middle">
            {fx(v)}
          </text>
        ))}
        {p.yTicks.map((v) => (
          <text key={`ly${v}`} x={l - 9.5} y={ys(v) + 4.3} textAnchor="end">
            {fy(v)}
          </text>
        ))}
      </g>
      <text
        x={(l + r) / 2}
        y={p.titleY}
        fontSize={20}
        textAnchor="middle"
        textLength={p.titleW}
        lengthAdjust="spacingAndGlyphs"
      >
        {p.title}
      </text>
    </g>
  );
}

function Legend() {
  const x0 = 856.5;
  const y0 = 73.5;
  const rowY = (i: number) => 86.7 + i * 27.43;
  return (
    <g>
      <rect x={x0 + 3} y={y0 + 3} width={200} height={224} rx={4} fill="#9a9a9a" fillOpacity={0.55} />
      <rect x={x0} y={y0} width={200} height={224} rx={4} fill="#fff" stroke="#cccccc" strokeWidth={1} />
      {SERIES_NAMES.map((name, i) => (
        <g key={name}>
          <line
            x1={862}
            x2={904}
            y1={rowY(i)}
            y2={rowY(i)}
            stroke={SERIES_COLORS[i]}
            strokeWidth={2}
            strokeDasharray={SERIES_DASHED[i] ? '6,3.3' : undefined}
          />
          <text x={919} y={rowY(i) + 7.3} fontSize={20}>
            {name}
          </text>
        </g>
      ))}
    </g>
  );
}

export default function App() {
  return (
    <svg
      width={W}
      height={H}
      viewBox={`0 0 ${W} ${H}`}
      style={{ position: 'absolute', left: 0, top: 0, background: '#fff' }}
      fontFamily={FONT}
    >
      <rect x={0} y={0} width={W} height={H} fill="#fff" />
      {PANELS.map((p, k) => (
        <Panel key={k} p={p} id={k} />
      ))}
      <text
        transform="translate(27,212) rotate(-90)"
        fontSize={23}
        textAnchor="middle"
        textLength={248}
        lengthAdjust="spacingAndGlyphs"
      >
        Episode Return (×1000)
      </text>
      <text x={447.2} y={445.5} fontSize={23} textAnchor="middle" textLength={281} lengthAdjust="spacingAndGlyphs">
        Environment Steps (×100k)
      </text>
      <Legend />
    </svg>
  );
}
